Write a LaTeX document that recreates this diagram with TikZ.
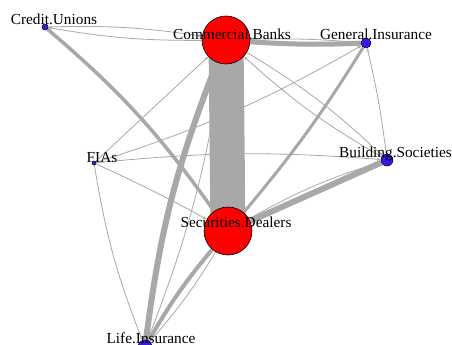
\documentclass[tikz,border=0pt]{standalone}
\usepackage{fontspec}
\setmainfont{Liberation Serif}
\usetikzlibrary{arrows.meta}
\definecolor{edgegray}{RGB}{168,168,168}
\definecolor{vred}{RGB}{255,0,0}
\definecolor{vblue}{RGB}{58,22,232}
\pgfdeclarelayer{edges}
\pgfsetlayers{edges,main}

\begin{document}
\begin{tikzpicture}[x=1pt,y=-1pt,
  big/.style={circle,draw=black,fill=vred,line width=0.6pt,minimum size=48pt,inner sep=0pt},
  small/.style={circle,draw=black,fill=vblue,line width=0.5pt,inner sep=0pt,minimum size=#1},
  lbl/.style={font=\fontsize{15.3}{17}\selectfont,inner sep=0pt,text=black,anchor=base},
  wide/.style={draw=edgegray,line width=#1},
  ln/.style={draw=edgegray,line width=0.8pt,-{Stealth[length=4pt,width=3pt]}},
]
\useasboundingbox (0,0) rectangle (452,345);

% vertices
\node[small=6pt]  (CU)  at (45,27)   {};
\node[big]        (CB)  at (226,40)  {};
\node[small=10pt] (GI)  at (366,43)  {};
\node[small=4pt]  (FIA) at (94,163)  {};
\node[small=12pt] (BS)  at (387,160) {};
\node[big]        (SD)  at (228,231) {};
\node[small=14pt] (LI)  at (145,347) {};

% vertex labels
\node[lbl] (CUl)  at (54,25)    {Credit.Unions};
\node[lbl] (CBl)  at (232,40)   {Commercial.Banks};
\node[lbl] (GIl)  at (376,40)   {General.Insurance};
\node[lbl] (FIAl) at (102,162)  {FIAs};
\node[lbl] (BSl)  at (395.5,157){Building.Societies};
\node[lbl] (SDl)  at (236,227)  {Securities.Dealers};
\node[lbl] (LIl)  at (151,343)  {Life.Insurance};

% weighted exposures
\begin{pgfonlayer}{edges}
\draw[wide=35pt] (CB.center) -- (SD.center);
\draw[wide=6pt] (CB) to[bend right=7] (LI);
\draw[ln] (CB) to[bend left=6] (LI);
\draw[ln] (CU) to[bend left=5] (CB);
\draw[ln] (CB) to[bend left=5] (CU);
\draw[wide=3.5pt] (CU) to[bend left=7] (SD);
\draw[ln] (FIA) -- (CB);
\draw[ln] (FIA) to[bend right=6] (GI);
\draw[ln] (FIA) to[bend left=5] (BS);
\draw[ln] (FIA) to[bend left=2] (SD);
\draw[ln] (FIA) to[bend right=6] (LI);
\draw[wide=5pt] (CB) to[bend right=3] (GI);
\draw[ln] (GI) to[bend right=3] (CB);
\draw[wide=3pt] (GI) to[bend left=4] (SD);
\draw[ln] (BS) to[bend right=3] (GI);
\draw[ln] (CB) to[bend left=6] (BS);
\draw[ln] (BS) to[bend left=6] (CB);
\draw[wide=6pt] (SD) -- (BS);
\draw[ln] (SD) to[bend left=6] (BS);
\draw[wide=4pt] (SD) to[bend right=5] (LI);
\draw[ln] (SD) to[bend left=5] (LI);
\end{pgfonlayer}
\end{tikzpicture}
\end{document}
